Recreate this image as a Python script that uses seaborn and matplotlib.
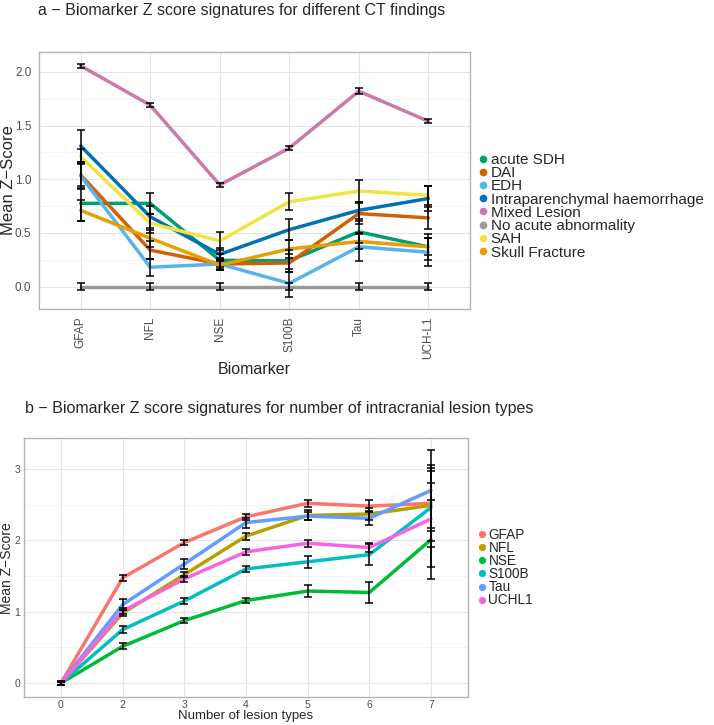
import numpy as np
import pandas as pd
import matplotlib
matplotlib.use("Agg")
import matplotlib.pyplot as plt
from matplotlib.lines import Line2D
from matplotlib.ticker import MultipleLocator, FormatStrFormatter
import seaborn as sns

# ---- panel a data: mean Z score per CT finding ----
biomarkers_a = ["GFAP", "NFL", "NSE", "S100B", "Tau", "UCH-L1"]
findings = ["acute SDH", "DAI", "EDH", "Intraparenchymal haemorrhage",
            "Mixed Lesion", "No acute abnormality", "SAH", "Skull Fracture"]
z_a = {
    "acute SDH":                    [0.775, 0.775, 0.245, 0.24, 0.51, 0.37],
    "DAI":                          [1.04, 0.34, 0.21, 0.22, 0.68, 0.64],
    "EDH":                          [1.03, 0.18, 0.21, 0.03, 0.37, 0.32],
    "Intraparenchymal haemorrhage": [1.31, 0.65, 0.30, 0.53, 0.71, 0.82],
    "Mixed Lesion":                 [2.056, 1.69, 0.947, 1.29, 1.82, 1.54],
    "No acute abnormality":         [0.0, 0.0, 0.0, 0.0, 0.0, 0.0],
    "SAH":                          [1.21, 0.59, 0.425, 0.79, 0.89, 0.85],
    "Skull Fracture":               [0.71, 0.45, 0.20, 0.35, 0.42, 0.37],
}
err_a = {
    "acute SDH":                    [0.16, 0.10, 0.06, 0.10, 0.10, 0.12],
    "DAI":                          [0.12, 0.08, 0.05, 0.08, 0.10, 0.10],
    "EDH":                          [0.12, 0.08, 0.06, 0.13, 0.13, 0.13],
    "Intraparenchymal haemorrhage": [0.15, 0.10, 0.06, 0.10, 0.08, 0.12],
    "Mixed Lesion":                 [0.02, 0.02, 0.02, 0.02, 0.03, 0.02],
    "No acute abnormality":         [0.03, 0.03, 0.03, 0.03, 0.03, 0.03],
    "SAH":                          [0.07, 0.09, 0.085, 0.08, 0.10, 0.09],
    "Skull Fracture":               [0.10, 0.08, 0.05, 0.08, 0.07, 0.08],
}
colors_a = ["#009E73", "#D55E00", "#56B4E9", "#0072B2",
            "#CC79A7", "#999999", "#F0E442", "#E69F00"]

# ---- panel b data: mean Z score per number of lesion types ----
n_lesions = ["0", "2", "3", "4", "5", "6", "7"]
markers_b = ["GFAP", "NFL", "NSE", "S100B", "Tau", "UCHL1"]
z_b = {
    "GFAP":  [0.0, 1.475, 1.97, 2.33, 2.52, 2.48, 2.52],
    "NFL":   [0.0, 0.98, 1.52, 2.06, 2.35, 2.37, 2.49],
    "NSE":   [0.0, 0.515, 0.876, 1.157, 1.29, 1.27, 2.01],
    "S100B": [0.0, 0.75, 1.15, 1.60, 1.70, 1.80, 2.46],
    "Tau":   [0.0, 1.10, 1.67, 2.25, 2.34, 2.31, 2.70],
    "UCHL1": [0.0, 1.01, 1.46, 1.84, 1.96, 1.90, 2.30],
}
err_b = {
    "GFAP":  [0.03, 0.04, 0.03, 0.04, 0.05, 0.08, 0.53],
    "NFL":   [0.02, 0.04, 0.04, 0.05, 0.07, 0.08, 0.31],
    "NSE":   [0.02, 0.04, 0.04, 0.04, 0.085, 0.145, 0.55],
    "S100B": [0.02, 0.05, 0.04, 0.04, 0.08, 0.15, 0.55],
    "Tau":   [0.02, 0.08, 0.07, 0.07, 0.06, 0.10, 0.57],
    "UCHL1": [0.03, 0.04, 0.04, 0.04, 0.05, 0.06, 0.67],
}
colors_b = ["#F8766D", "#B79F00", "#00BA38", "#00BFC4", "#619CFF", "#F564E3"]

df_a = pd.DataFrame([
    {"biomarker": b, "finding": f, "z": z_a[f][i], "err": err_a[f][i]}
    for f in findings for i, b in enumerate(biomarkers_a)
])
df_b = pd.DataFrame([
    {"n": n, "marker": m, "z": z_b[m][i], "err": err_b[m][i]}
    for m in markers_b for i, n in enumerate(n_lesions)
])

sns.set_style("white")
plt.rcParams["font.family"] = ["Liberation Sans", "DejaVu Sans"]

TICK = "#4D4D4D"
BORDER = "#B3B3B3"


def style_axes(ax, tick_size, ymajor, yminor, length, pad):
    for s in ax.spines.values():
        s.set_color(BORDER)
        s.set_linewidth(1.0)
    ax.yaxis.set_major_locator(MultipleLocator(ymajor))
    ax.yaxis.set_minor_locator(MultipleLocator(yminor))
    ax.grid(which="major", color="#E5E5E5", linewidth=0.8)
    ax.grid(which="minor", axis="y", color="#F0F0F0", linewidth=0.5)
    ax.set_axisbelow(True)
    ax.tick_params(axis="both", which="major", length=length, color=BORDER,
                   labelcolor=TICK, labelsize=tick_size, pad=pad)
    ax.tick_params(axis="y", which="minor", length=0)


def gg_limits(df):
    lo = (df["z"] - df["err"]).min()
    hi = (df["z"] + df["err"]).max()
    pad = (hi - lo) * 0.05
    return lo - pad, hi + pad


fig = plt.figure(figsize=(7.14, 7.25), dpi=100)

# ---------------- panel a ----------------
ax1 = fig.add_axes([39 / 714, 1 - 309 / 725, 431 / 714, 257 / 725])
sns.lineplot(data=df_a, x="biomarker", y="z", hue="finding",
             hue_order=findings, palette=colors_a, linewidth=2.5,
             sort=False, legend=False, ax=ax1)
for f in findings:
    sub = df_a[df_a["finding"] == f]
    ax1.errorbar(sub["biomarker"], sub["z"], yerr=sub["err"], fmt="none",
                 ecolor="black", elinewidth=1.1, capsize=3.2, capthick=1.1,
                 zorder=3)
ax1.set_xlim(-0.6, len(biomarkers_a) - 0.4)
ax1.set_ylim(*gg_limits(df_a))
style_axes(ax1, 8.5, 0.5, 0.25, 3, 2.5)
ax1.yaxis.set_major_formatter(FormatStrFormatter("%.1f"))
ax1.tick_params(axis="x", labelrotation=90)
ax1.set_xlabel("Biomarker", fontsize=11.5, labelpad=2)
ax1.set_ylabel("")
handles_a = [Line2D([], [], marker="o", linestyle="none", color=c,
                    markersize=4.5) for c in colors_a]
ax1.legend(handles_a, findings, loc="center left", bbox_to_anchor=(1.0, 0.40),
           frameon=False, fontsize=11, handlelength=0.6, handletextpad=0.2,
           labelspacing=-0.05, borderaxespad=0.15)

# ---------------- panel b ----------------
ax2 = fig.add_axes([24 / 714, 1 - 697 / 725, 444 / 714, 259 / 725])
sns.lineplot(data=df_b, x="n", y="z", hue="marker", hue_order=markers_b,
             palette=colors_b, linewidth=2.5, sort=False, legend=False,
             ax=ax2)
for m in markers_b:
    sub = df_b[df_b["marker"] == m]
    ax2.errorbar(sub["n"], sub["z"], yerr=sub["err"], fmt="none",
                 ecolor="black", elinewidth=1.1, capsize=3.2, capthick=1.1,
                 zorder=3)
ax2.set_xlim(-0.6, len(n_lesions) - 0.4)
ax2.set_ylim(*gg_limits(df_b))
style_axes(ax2, 7.5, 1.0, 0.5, 1.5, 1)
ax2.set_xlabel("Number of lesion types", fontsize=9.5, labelpad=0)
ax2.set_ylabel("")
handles_b = [Line2D([], [], marker="o", linestyle="none", color=c,
                    markersize=4.2) for c in colors_b]
ax2.legend(handles_b, markers_b, loc="center left", bbox_to_anchor=(1.0, 0.5),
           frameon=False, fontsize=9.8, handlelength=0.6, handletextpad=0.2,
           labelspacing=-0.06, borderaxespad=0.3)

# y labels placed in figure pixels, like the reference
fig.text(9 / 714, 1 - 180 / 725, "Mean Z\u2212Score", fontsize=12,
         rotation=90, va="center", ha="center")
fig.text(7 / 714, 1 - 568 / 725, "Mean Z\u2212Score", fontsize=10,
         rotation=90, va="center", ha="center")

fig.text(38 / 714, 1 - 11 / 725,
         "a \u2212 Biomarker Z score signatures for different CT findings",
         fontsize=11.5, va="center", ha="left")
fig.text(25 / 714, 1 - 409 / 725,
         "b \u2212 Biomarker Z score signatures for number of intracranial lesion types",
         fontsize=11.5, va="center", ha="left")

fig.savefig("out.png", dpi=100)
